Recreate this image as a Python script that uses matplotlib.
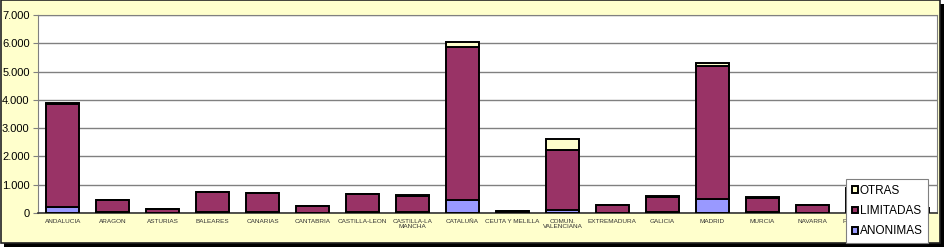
import matplotlib

matplotlib.use("Agg")

import matplotlib.pyplot as plt
import numpy as np
from matplotlib.patches import Rectangle
from matplotlib.ticker import FuncFormatter

regions = [
    "ANDALUCIA", "ARAGON", "ASTURIAS", "BALEARES", "CANARIAS", "CANTABRIA",
    "CASTILLA-LEON", "CASTILLA-LA\nMANCHA", "CATALUÑA", "CEUTA Y MELILLA",
    "COMUN.\nVALENCIANA", "EXTREMADURA", "GALICIA", "MADRID", "MURCIA",
    "NAVARRA", "PAIS VASCO", "RIOJA",
]
anonimas = [210, 30, 10, 30, 30, 10, 30, 25, 470, 5, 120, 10, 40, 490, 20, 15, 60, 10]
limitadas = [3640, 430, 130, 720, 660, 250, 630, 590, 5410, 60, 2120, 270, 540, 4710, 520, 270, 800, 160]
otras = [30, 10, 5, 10, 10, 5, 10, 10, 180, 5, 370, 10, 10, 90, 10, 5, 20, 5]

W, H = 944, 247
fig = plt.figure(figsize=(W / 100, H / 100), dpi=100)
fig.patch.set_facecolor("white")

# outer frame with drop shadow
fig.patches.append(Rectangle((4 / W, 0), (W - 4) / W, (H - 4) / H, transform=fig.transFigure,
                             facecolor="black", edgecolor="none", zorder=-2))
fig.patches.append(Rectangle((0.5 / W, 4 / H), (W - 5) / W, (H - 4.5) / H, transform=fig.transFigure,
                             facecolor="#FFFFCC", edgecolor="#222222", linewidth=1.2, zorder=-1))

ax = fig.add_axes([38 / W, 1 - 213 / H, (937 - 38) / W, (213 - 15) / H])
ax.set_zorder(1)
ax.set_facecolor("white")

x = np.arange(len(regions))
width = 0.66
style = dict(width=width, edgecolor="black", linewidth=1.4, zorder=3)
ax.bar(x, anonimas, color="#9999FF", label="ANONIMAS", **style)
ax.bar(x, limitadas, bottom=anonimas, color="#993366", label="LIMITADAS", **style)
bottom2 = np.array(anonimas) + np.array(limitadas)
ax.bar(x, otras, bottom=bottom2, color="#FFFFCC", label="OTRAS", **style)

ax.set_xlim(-0.5, len(regions) - 0.5)
ax.set_ylim(0, 7000)
ax.set_yticks(range(0, 7001, 1000))
ax.yaxis.set_major_formatter(FuncFormatter(lambda v, _: f"{int(v):,}".replace(",", ".")))
ax.grid(axis="y", color="#808080", linewidth=1.0, zorder=1)
ax.set_xticks(x)
ax.set_xticklabels(regions, fontsize=4.6, color="#333333", family="Liberation Sans", linespacing=1.1)
ax.tick_params(axis="x", length=0, pad=4)
ax.tick_params(axis="y", labelsize=8, length=3.5, color="#808080", pad=2.5)
for lab in ax.get_yticklabels():
    lab.set_family("Liberation Sans")

for side in ["top", "right", "left"]:
    ax.spines[side].set_color("#808080")
ax.spines["bottom"].set_color("#333333")
ax.spines["bottom"].set_linewidth(1.2)

handles, labels = ax.get_legend_handles_labels()
leg = fig.legend(handles[::-1], labels[::-1], loc="upper left",
                 bbox_to_anchor=(846 / W, 1 - 179 / H), bbox_transform=fig.transFigure,
                 prop={"family": "Liberation Sans", "size": 8.5},
                 frameon=True, fancybox=False, edgecolor="#808080", framealpha=1,
                 handlelength=0.5, handleheight=0.5, handletextpad=0.15,
                 labelspacing=0.7, borderpad=0.5, borderaxespad=0)
leg.get_frame().set_linewidth(0.8)
leg.set_zorder(10)

fig.savefig("out.png", dpi=100)
